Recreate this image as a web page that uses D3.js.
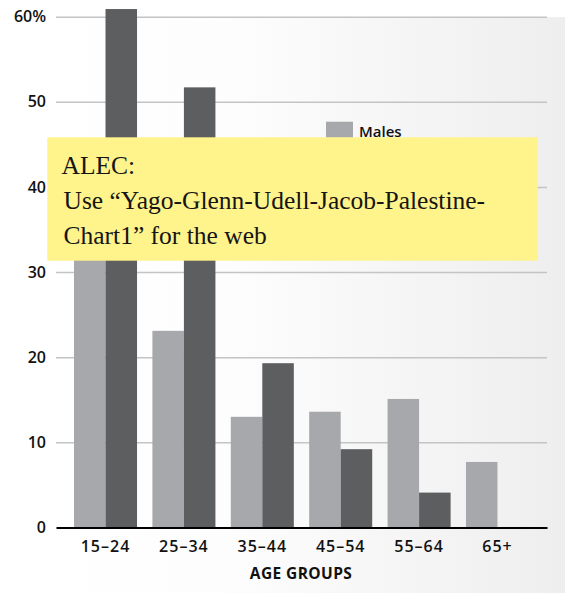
<!DOCTYPE html>
<html>
<head>
<meta charset="utf-8">
<script src="https://cdn.jsdelivr.net/npm/d3@7"></script>
<style>
  html, body { margin: 0; padding: 0; background: #ffffff; }
  svg { display: block; }
</style>
</head>
<body>
<svg id="chart" width="565" height="593"></svg>
<script>
// Age groups and percentage values by sex
const ageGroups = ["15–24", "25–34", "35–44", "45–54", "55–64", "65+"];
const males   = [37, 23.1, 13.0, 13.6, 15.1, 7.7];
const females = [60.9, 51.7, 19.3, 9.2, 4.1, null];
const seriesNames = ["Males", "Females"];
const yTicks = [10, 20, 30, 40, 50, 60];
const yTickLabels = ["10", "20", "30", "40", "50", "60%"];
const xTitle = "AGE GROUPS";
const noteLines = ["ALEC:", "Use “Yago-Glenn-Udell-Jacob-Palestine-", "Chart1” for the web"];

const colors = { Males: "#a7a8ab", Females: "#5d5e60" };
const sansFont = "'Open Sans', 'Noto Sans', sans-serif";

const svg = d3.select("#chart");
const plotLeft = 56, plotRight = 547, plotTop = 16.7, plotBottom = 527.5;

// Background panel with a soft horizontal fade
const defs = svg.append("defs");
const grad = defs.append("linearGradient").attr("id", "panelFade")
  .attr("x1", "0%").attr("x2", "100%").attr("y1", "0%").attr("y2", "0%");
grad.append("stop").attr("offset", "0%").attr("stop-color", "#ffffff");
grad.append("stop").attr("offset", "40%").attr("stop-color", "#fdfdfd");
grad.append("stop").attr("offset", "100%").attr("stop-color", "#eeeeee");
svg.append("rect").attr("x", 10).attr("y", 17).attr("width", 555).attr("height", 576)
  .attr("fill", "url(#panelFade)");

// Scales
const y = d3.scaleLinear().domain([0, 60]).range([plotBottom, plotTop]);
const x0 = d3.scaleBand().domain(ageGroups).range([plotLeft, plotRight])
  .paddingInner(0.196).paddingOuter(0.2296);
const x1 = d3.scaleBand().domain(seriesNames).range([0, x0.bandwidth()]);

// Y axis with gridlines
const yAxis = svg.append("g").attr("transform", `translate(${plotLeft},0)`)
  .call(d3.axisLeft(y).tickValues(yTicks)
    .tickFormat((d, i) => yTickLabels[i])
    .tickSize(-(plotRight - plotLeft)).tickPadding(10));
yAxis.select(".domain").remove();
yAxis.selectAll(".tick line").attr("stroke", "#c4c4c4").attr("stroke-width", 1.5);
yAxis.selectAll(".tick text")
  .attr("fill", "#111").attr("font-family", sansFont)
  .attr("font-size", 16).attr("font-weight", 600);

// Bars
const rows = ageGroups.map((g, i) => ({ group: g, Males: males[i], Females: females[i] }));
const groups = svg.append("g").selectAll("g").data(rows).join("g")
  .attr("transform", d => `translate(${x0(d.group)},0)`);
groups.selectAll("rect")
  .data(d => seriesNames.filter(s => d[s] != null).map(s => ({ key: s, value: d[s] })))
  .join("rect")
  .attr("x", d => x1(d.key))
  .attr("width", x1.bandwidth())
  .attr("y", d => y(d.value))
  .attr("height", d => y(0) - y(d.value))
  .attr("fill", d => colors[d.key]);

// X axis
const xAxis = svg.append("g").attr("transform", `translate(0,${plotBottom})`)
  .call(d3.axisBottom(x0).tickSize(0).tickSizeOuter(0).tickPadding(13));
xAxis.select(".domain").attr("stroke", "#000").attr("stroke-width", 2.2);
xAxis.selectAll(".tick text")
  .attr("fill", "#111").attr("font-family", sansFont)
  .attr("font-size", 16).attr("font-weight", 600).attr("letter-spacing", 1);

// Y label for zero
svg.append("text").attr("x", plotLeft - 10).attr("y", plotBottom).attr("dy", "0.32em")
  .attr("text-anchor", "end").attr("fill", "#111")
  .attr("font-family", sansFont).attr("font-size", 16).attr("font-weight", 600)
  .text("0");

svg.append("text").attr("x", 301).attr("y", 579)
  .attr("text-anchor", "middle").attr("fill", "#111")
  .attr("font-family", sansFont).attr("font-size", 15.5).attr("font-weight", 700)
  .attr("letter-spacing", 0.4)
  .text(xTitle);

// Legend
const legend = svg.append("g").attr("transform", "translate(326,121.7)");
const items = legend.selectAll("g").data(seriesNames).join("g")
  .attr("transform", (d, i) => `translate(0,${i * 26})`);
items.append("rect").attr("width", 27).attr("height", 16).attr("fill", d => colors[d]);
items.append("text").attr("x", 33).attr("y", 15.5)
  .attr("fill", "#111").attr("font-family", sansFont)
  .attr("font-size", 15).attr("font-weight", 600).text(d => d);

// Editorial note
const note = svg.append("g");
note.append("rect").attr("x", 47.3).attr("y", 137.3).attr("width", 490.4).attr("height", 123.4)
  .attr("fill", "#fff38b");
note.selectAll("text").data(noteLines).join("text")
  .attr("x", d => d === noteLines[0] ? 61.5 : 63.5)
  .attr("y", (d, i) => 174 + i * 35)
  .attr("fill", "#151515")
  .attr("font-family", "'Liberation Serif', 'DejaVu Serif', serif")
  .attr("font-size", 25.5)
  .text(d => d);
</script>
</body>
</html>
